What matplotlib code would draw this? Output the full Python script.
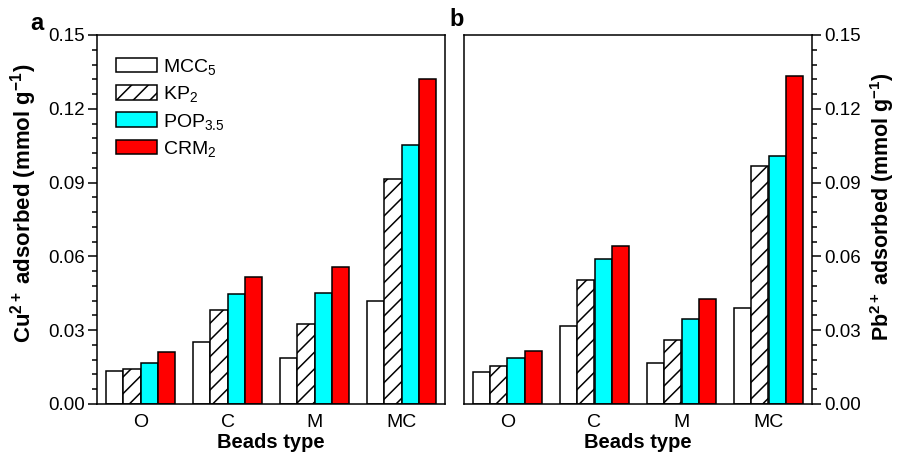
import matplotlib
matplotlib.use("Agg")
import matplotlib.pyplot as plt
import numpy as np
from matplotlib.ticker import MultipleLocator, FormatStrFormatter

plt.rcParams['font.family'] = ['Liberation Sans', 'DejaVu Sans']
plt.rcParams['mathtext.fontset'] = 'custom'
plt.rcParams['mathtext.rm'] = 'Liberation Sans'
plt.rcParams['mathtext.it'] = 'Liberation Sans'
plt.rcParams['mathtext.bf'] = 'Liberation Sans:bold'
plt.rcParams['mathtext.default'] = 'regular'
plt.rcParams['hatch.linewidth'] = 1.1

categories = ['O', 'C', 'M', 'MC']
series = ['MCC$_5$', 'KP$_2$', 'POP$_{3.5}$', 'CRM$_2$']

cu_mcc = [0.0133, 0.0253, 0.0186, 0.0419]
cu_kp = [0.0144, 0.0382, 0.0326, 0.0914]
cu_pop = [0.0166, 0.0446, 0.0450, 0.1054]
cu_crm = [0.0211, 0.0517, 0.0555, 0.1322]

pb_mcc = [0.0130, 0.0318, 0.0168, 0.0391]
pb_kp = [0.0156, 0.0504, 0.0260, 0.0969]
pb_pop = [0.0186, 0.0589, 0.0347, 0.1007]
pb_crm = [0.0216, 0.0641, 0.0428, 0.1332]

colors = ['white', 'white', '#00FFFF', '#FF0000']
hatches = [None, '//', None, None]

fig = plt.figure(figsize=(9.01, 4.58), dpi=100)
axa = fig.add_axes([97/901, 1-404/458, 348/901, 369/458])
axb = fig.add_axes([464/901, 1-404/458, 348/901, 369/458])

x = np.arange(len(categories))
w = 0.2

def draw(ax, data):
    bars = []
    for i, (vals, c, h, lab) in enumerate(zip(data, colors, hatches, series)):
        b = ax.bar(x + (i - 1.5) * w, vals, width=w, color=c, hatch=h,
                   edgecolor='black', linewidth=1.1, label=lab)
        bars.append(b)
    ax.set_xlim(-0.5, 3.5)
    ax.set_ylim(0, 0.15)
    ax.set_xticks(x)
    ax.set_xticklabels(categories, fontsize=14)
    ax.tick_params(axis='x', length=0, pad=7)
    ax.yaxis.set_major_locator(MultipleLocator(0.03))
    ax.yaxis.set_minor_locator(MultipleLocator(0.006))
    ax.yaxis.set_major_formatter(FormatStrFormatter('%.2f'))
    ax.tick_params(axis='y', which='major', length=6.5, width=1.1, direction='out', labelsize=13.5, pad=2)
    ax.tick_params(axis='y', which='minor', length=3.5, width=1.1, direction='out')
    for s in ax.spines.values():
        s.set_linewidth(1.1)
    ax.set_xlabel('Beads type', fontsize=14.5, fontweight='bold', labelpad=2)
    return bars

draw(axa, [cu_mcc, cu_kp, cu_pop, cu_crm])
draw(axb, [pb_mcc, pb_kp, pb_pop, pb_crm])

axa.set_ylabel(r'Cu$^{2+}$ adsorbed (mmol g$^{-1}$)', fontsize=16, fontweight='bold')
axa.yaxis.set_label_coords(-0.168, 0.545)
axb.yaxis.tick_right()
axb.yaxis.set_label_position('right')
axb.set_ylabel(r'Pb$^{2+}$ adsorbed (mmol g$^{-1}$)', fontsize=15.5, fontweight='bold')
axb.yaxis.set_label_coords(1.16, 0.535)

leg = axa.legend(loc='upper left', frameon=False, fontsize=14, handlelength=2.1, handleheight=0.78,
                 handletextpad=0.3, labelspacing=0.38, borderaxespad=0.3, bbox_to_anchor=(0.016, 0.978))

fig.text(37/901, 1-23/458, 'a', fontsize=17, fontweight='bold', ha='center', va='center')
fig.text(457/901, 1-20/458, 'b', fontsize=17, fontweight='bold', ha='center', va='center')

fig.savefig('out.png', dpi=100)
